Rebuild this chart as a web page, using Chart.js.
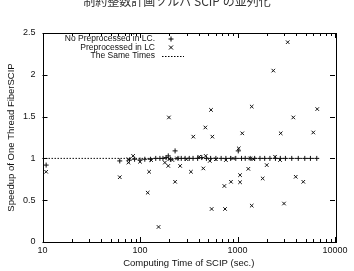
<!DOCTYPE html>
<html>
<head>
<meta charset="utf-8">
<script src="https://cdn.jsdelivr.net/npm/chart.js@4.4.1/dist/chart.umd.min.js"></script>
<style>
  body { margin: 0; background: #fff; }
  #wrap { width: 354px; height: 271px; position: relative; }
</style>
</head>
<body>
<div id="wrap"><canvas id="myChart"></canvas></div>
<script>
const chartTitle = '制約整数計画ソルバ SCIP の並列化';
const legendLabels = ['No Preprocessed in LC.', 'Preprocessed in LC', 'The Same Times'];
const xTickValues = [10, 100, 1000, 10000];
const yTickValues = [0, 0.5, 1, 1.5, 2, 2.5];

// No Preprocessed in LC. (+)
const noPreTime = [10.9, 62, 78, 88, 100, 112, 128, 145, 160, 172, 185, 195, 205, 229, 245, 265, 290, 320, 350, 390,
  430, 480, 530, 600, 680, 760, 850, 960, 1018, 1100, 1200, 1350, 1500, 1700, 1900, 2150, 2450, 2750, 3100, 3600,
  4200, 4900, 5600, 6500];
const noPreSpeedup = [0.92, 0.97, 0.98, 0.99, 0.98, 0.99, 0.99, 1.0, 1.0, 1.0, 1.01, 1.03, 0.99, 1.09, 1.0, 1.0, 1.0, 1.0, 1.0, 1.0,
  1.01, 1.0, 1.0, 1.0, 1.0, 1.0, 1.0, 1.0, 1.09, 1.0, 1.0, 1.0, 1.0, 1.0, 1.0, 1.0, 1.0, 1.0, 1.0, 1.0,
  1.0, 1.0, 1.0, 1.0];

// Preprocessed in LC (x)
const preTime = [10.9, 62, 76, 76, 85, 100, 120, 124, 130, 155, 180, 195, 198, 200, 215, 229, 240, 258, 300, 333,
  352, 405, 446, 468, 472, 520, 535, 543, 552, 600, 733, 745, 760, 857, 900, 1030, 1062, 1062, 1119, 1291,
  1350, 1399, 1399, 1450, 1812, 1995, 2329, 2427, 2730, 2774, 2999, 3272, 3736, 3954, 4731, 5988, 6574];
const preSpeedup = [0.84, 0.775, 0.99, 0.95, 1.03, 0.96, 0.59, 0.84, 0.98, 0.18, 0.95, 0.91, 1.49, 0.99, 0.98, 0.72, 1.0, 0.91, 0.99, 0.84,
  1.26, 1.02, 0.88, 1.37, 1.03, 0.97, 1.58, 0.395, 1.26, 0.99, 0.67, 0.395, 0.98, 0.72, 1.0, 1.12, 0.80, 0.715, 1.30, 0.875,
  1.0, 1.62, 0.435, 0.99, 0.76, 0.92, 2.05, 1.02, 0.98, 1.30, 0.46, 2.39, 1.49, 0.78, 0.72, 1.31, 1.59];

// The Same Times
const sameTime = [10, 6850];
const sameSpeedup = [1, 1];

const toPoints = (xs, ys) => xs.map((x, i) => ({x: x, y: ys[i]}));

const sansFont = '"Liberation Sans", Arial, sans-serif';

// gnuplot-like frame, inward ticks, legend and title
const framePlugin = {
  id: 'frame',
  afterDraw(chart) {
    const c = chart.ctx, a = chart.chartArea;
    const xs = chart.scales.x, ys = chart.scales.y;
    c.save();
    c.strokeStyle = '#000';
    c.lineWidth = 1;
    c.strokeRect(Math.round(a.left) + 0.5, Math.round(a.top) + 0.5,
      Math.round(a.right - a.left), Math.round(a.bottom - a.top));
    c.beginPath();
    // x ticks, major and minor, bottom and top
    for (let d = 10; d < 10000; d *= 10) {
      for (let m = 1; m <= 10; m++) {
        const px = Math.round(xs.getPixelForValue(d * m)) + 0.5;
        const len = (m === 1 || m === 10) ? 5 : 3;
        c.moveTo(px, a.bottom); c.lineTo(px, a.bottom - len);
        c.moveTo(px, a.top); c.lineTo(px, a.top + len);
      }
    }
    yTickValues.forEach(v => {
      const py = Math.round(ys.getPixelForValue(v)) + 0.5;
      c.moveTo(a.left, py); c.lineTo(a.left + 5, py);
      c.moveTo(a.right, py); c.lineTo(a.right - 5, py);
    });
    c.stroke();

    // legend
    c.font = '8.5px ' + sansFont;
    c.fillStyle = '#111';
    c.textAlign = 'right';
    c.textBaseline = 'middle';
    const rows = [39, 47.5, 56];
    legendLabels.forEach((t, i) => c.fillText(t, 155, rows[i]));
    c.beginPath();
    // plus
    c.moveTo(168.5, rows[0]); c.lineTo(173.5, rows[0]);
    c.moveTo(171, rows[0] - 2.5); c.lineTo(171, rows[0] + 2.5);
    // cross
    c.moveTo(169, rows[1] - 2); c.lineTo(173, rows[1] + 2);
    c.moveTo(169, rows[1] + 2); c.lineTo(173, rows[1] - 2);
    c.stroke();
    c.setLineDash([1.5, 1.5]);
    c.beginPath();
    c.moveTo(162, rows[2] + 0.5); c.lineTo(184, rows[2] + 0.5);
    c.stroke();
    c.setLineDash([]);

    // title
    c.font = '12px "Noto Sans CJK JP", sans-serif';
    c.fillStyle = '#333';
    c.textAlign = 'center';
    c.fillText(chartTitle, 177, 1.5);
    c.restore();
  }
};

const ctx = document.getElementById('myChart');
const chart = new Chart(ctx, {
  type: 'scatter',
  data: {
    datasets: [
      {
        label: legendLabels[0],
        data: toPoints(noPreTime, noPreSpeedup),
        pointStyle: 'cross',
        pointRadius: 2.5,
        borderColor: '#111',
        backgroundColor: '#111',
        borderWidth: 1
      },
      {
        label: legendLabels[1],
        data: toPoints(preTime, preSpeedup),
        pointStyle: 'crossRot',
        pointRadius: 2.5,
        borderColor: '#111',
        backgroundColor: '#111',
        borderWidth: 1
      },
      {
        label: legendLabels[2],
        type: 'line',
        data: toPoints(sameTime, sameSpeedup),
        borderColor: '#111',
        borderWidth: 1,
        borderDash: [1.5, 1.5],
        pointRadius: 0,
        fill: false
      }
    ]
  },
  options: {
    responsive: true,
    maintainAspectRatio: false,
    animation: false,
    layout: { padding: { top: 33, right: 19, left: 0, bottom: 0 } },
    plugins: {
      legend: { display: false },
      title: { display: false },
      tooltip: { enabled: false }
    },
    scales: {
      x: {
        type: 'logarithmic',
        min: 10,
        max: 10000,
        afterBuildTicks: s => { s.ticks = xTickValues.map(v => ({value: v})); },
        afterFit: s => { s.height = 29; },
        grid: { display: false, drawTicks: false },
        border: { display: false },
        ticks: {
          padding: 3,
          color: '#111',
          font: { family: sansFont, size: 9 },
          callback: v => String(v)
        },
        title: {
          display: true,
          text: 'Computing Time of SCIP (sec.)',
          color: '#111',
          font: { family: sansFont, size: 9.5 },
          padding: { top: 0, bottom: 2 }
        }
      },
      y: {
        min: 0,
        max: 2.5,
        afterBuildTicks: s => { s.ticks = yTickValues.map(v => ({value: v})); },
        afterFit: s => { s.width = 42.5; },
        grid: { display: false, drawTicks: false },
        border: { display: false },
        ticks: {
          padding: 7,
          color: '#111',
          font: { family: sansFont, size: 9 },
          callback: v => String(v)
        },
        title: {
          display: true,
          text: 'Speedup of One Thread FiberSCIP',
          color: '#111',
          font: { family: sansFont, size: 9.5 },
          padding: { top: 6, bottom: 0 }
        }
      }
    }
  },
  plugins: [framePlugin]
});
</script>
</body>
</html>
